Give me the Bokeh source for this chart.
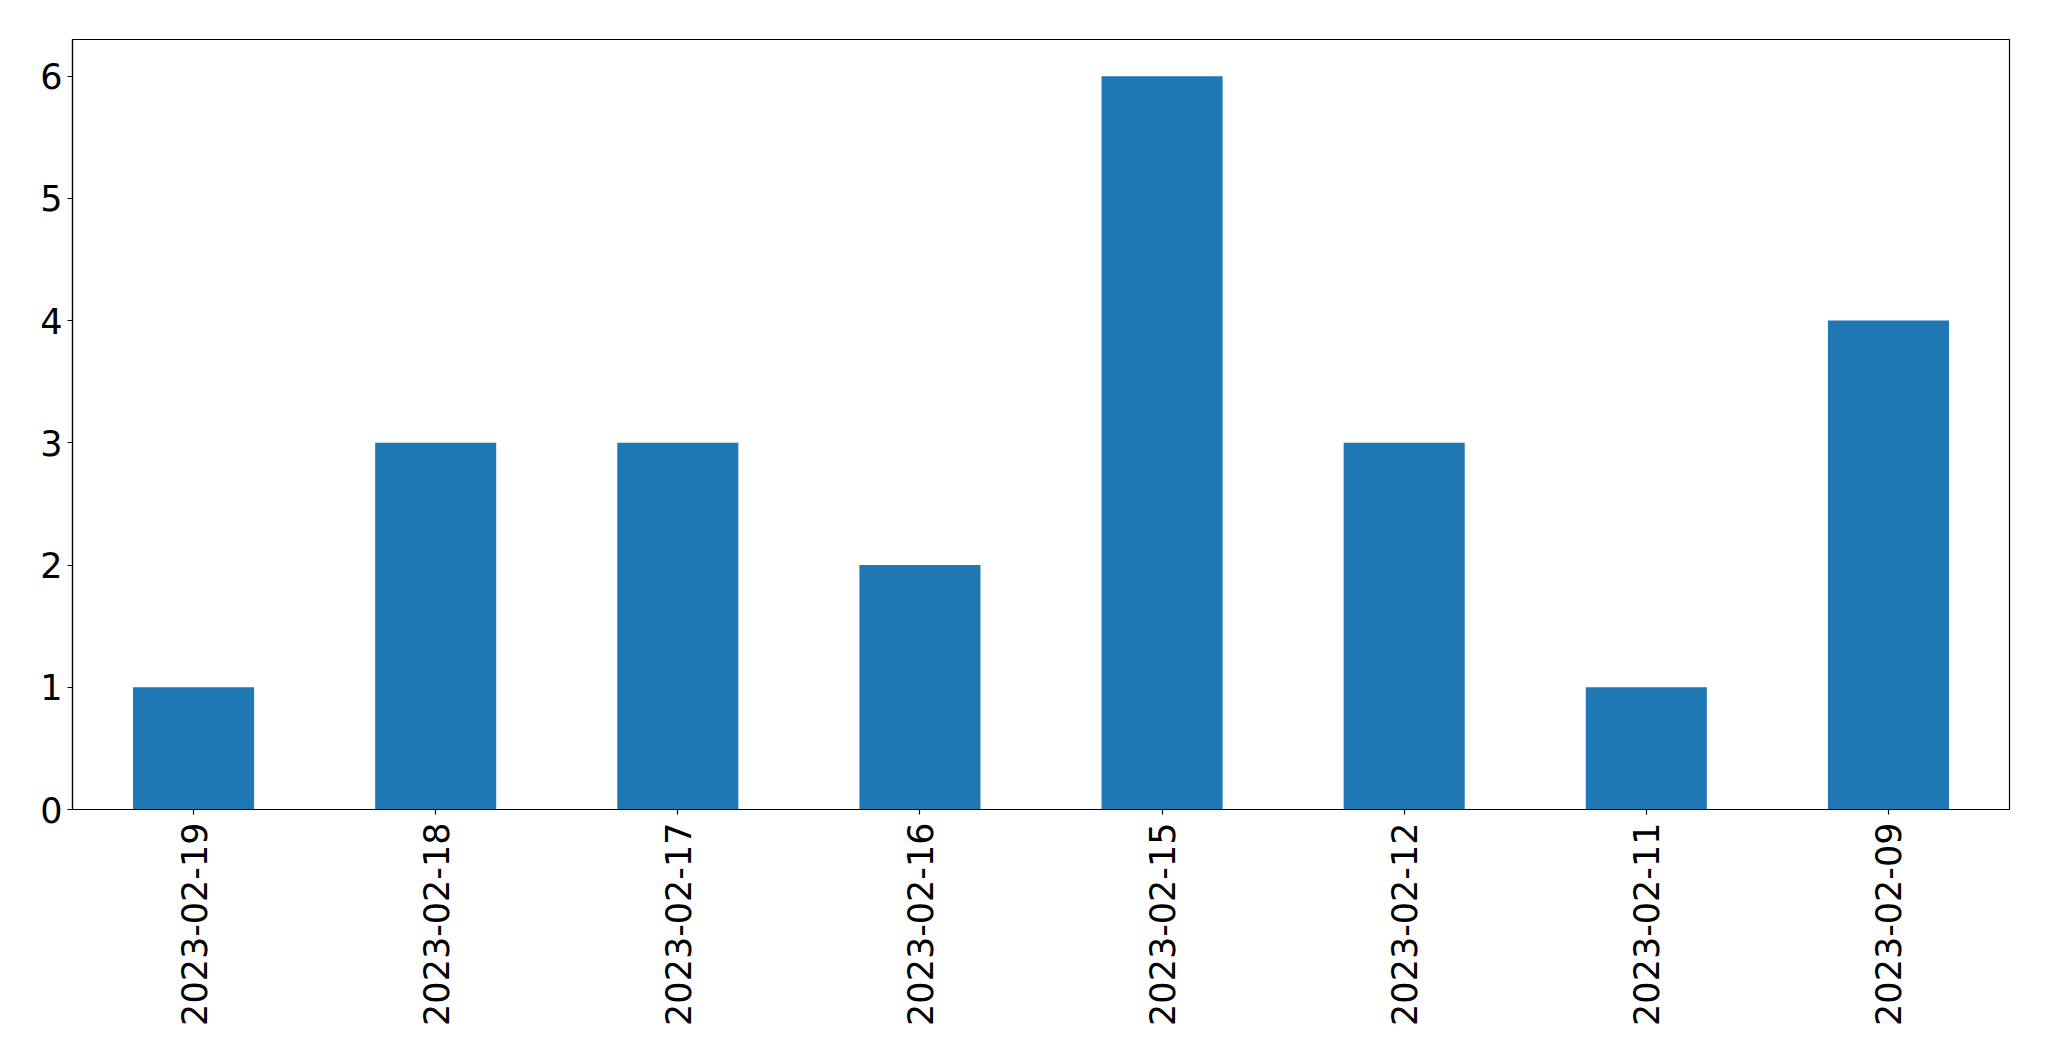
import math
from bokeh.plotting import figure
from bokeh.models import FactorRange, Range1d, FixedTicker
from bokeh.embed import file_html
from bokeh.resources import INLINE

dates = ["2023-02-19", "2023-02-18", "2023-02-17", "2023-02-16",
         "2023-02-15", "2023-02-12", "2023-02-11", "2023-02-09"]
counts = [1, 3, 3, 2, 6, 3, 1, 4]
y_ticks = [0, 1, 2, 3, 4, 5, 6]

p = figure(x_range=FactorRange(factors=dates, range_padding=0.0),
           y_range=Range1d(0, 6.3),
           frame_width=1937, frame_height=770,
           min_border_left=72, min_border_top=39, min_border_right=30, min_border_bottom=236,
           output_backend="svg", toolbar_location=None)

p.vbar(x=dates, top=counts, width=0.5, fill_color="#1f77b4", line_color=None)

p.xgrid.visible = False
p.ygrid.visible = False
p.outline_line_color = "black"
p.outline_line_width = 1.2
p.outline_line_alpha = 1.0

for ax in (p.xaxis[0], p.yaxis[0]):
    ax.major_label_text_font = "DejaVu Sans"
    ax.major_label_text_font_size = "35px"
    ax.major_label_text_color = "black"
    ax.axis_line_color = "black"
    ax.axis_line_width = 1.2
    ax.major_tick_line_color = "black"
    ax.major_tick_line_width = 1.2
    ax.major_tick_in = 0
    ax.major_tick_out = 5
    ax.minor_tick_line_color = None

p.yaxis.ticker = FixedTicker(ticks=y_ticks)
p.yaxis.major_label_standoff = 5
p.xaxis.major_label_orientation = math.pi / 2
p.xaxis.major_label_standoff = 8

open("out.html", "w").write(file_html(p, INLINE))
